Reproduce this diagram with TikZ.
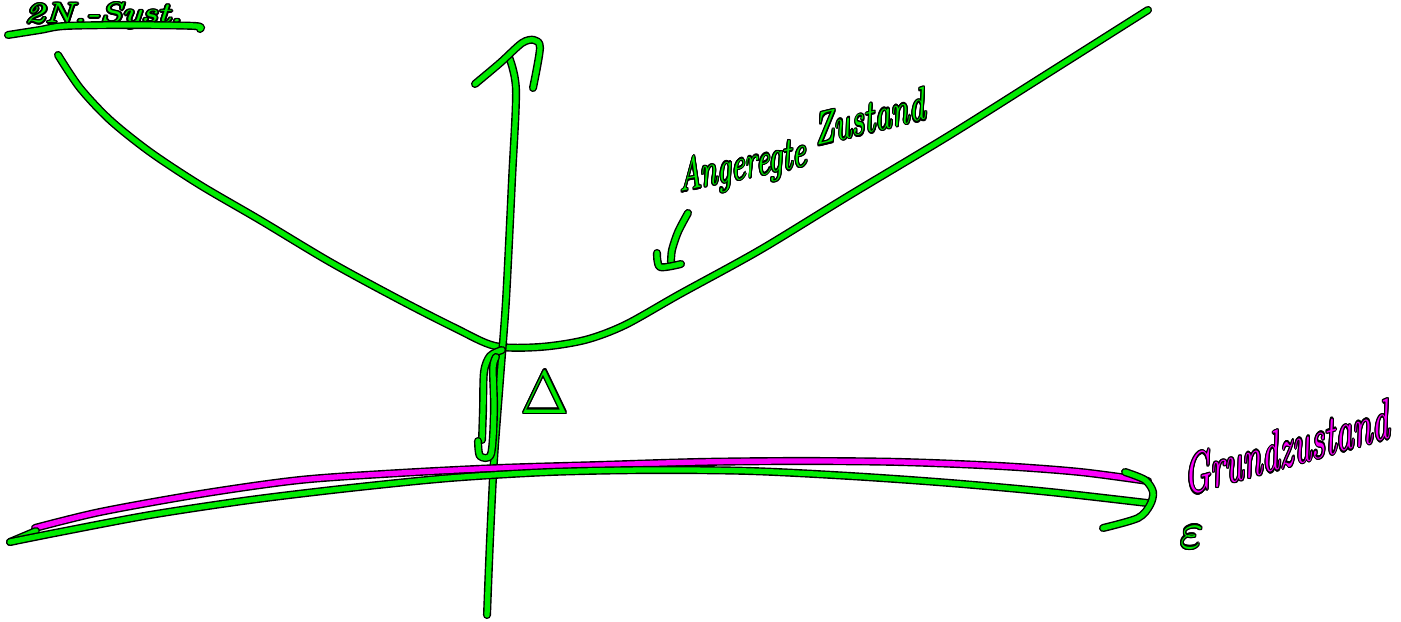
\documentclass[tikz,border=0pt]{standalone}
\usepackage{contour}
\contourlength{0.4pt}
\definecolor{pengreen}{RGB}{0,235,0}
\definecolor{penmagenta}{RGB}{250,0,250}
\newcommand{\pentext}[2]{\textcolor{#1}{\contour{black}{#2}}}

\begin{document}
\begin{tikzpicture}[x=0.01cm,y=-0.01cm,line cap=round,line join=round,
  pen/.style={draw=black,double=pengreen,double distance=1.5pt,line width=0.4pt},
  penmag/.style={pen,double=penmagenta},
  hand/.style={inner sep=0pt,font=\fontsize{13}{13}\selectfont\itshape}]
  \useasboundingbox (0,0) rectangle (1401,622);
  % Ueberschrift
  \node[hand,anchor=base west,font=\fontsize{8}{8}\selectfont\itshape,xscale=1.3] (titel) at (24,23) {\pentext{pengreen}{2N.-Syst.}};
  \draw[pen] plot[smooth] coordinates {(8,35) (40,30) (65,26) (130,25) (195,26) (200,29)};
  % angeregter Zustand
  \draw[pen] plot[smooth] coordinates {(58,55) (80,88) (110,120) (150,152) (200,185)
    (260,220) (330,262) (400,300) (455,328) (495,346) (540,347) (585,340) (625,325)
    (680,294) (760,250) (850,195) (950,135) (1050,72) (1148,10)};
  % Energieachse
  \draw[pen] plot[smooth] coordinates {(487,615) (490,540) (494,460) (500,380)
    (506,300) (512,180) (516,90) (509,57)};
  \draw[pen] plot[smooth] coordinates {(475,84) (500,63) (522,43) (534,40) (540,48) (533,88)};
  % Grundzustand
  \draw[penmag] plot[smooth] coordinates {(35,528) (100,512) (200,494) (300,480)
    (400,473) (500,468) (600,465) (700,462) (800,461) (900,462) (1000,466)
    (1080,472) (1148,481)};
  \draw[pen] (36,531) -- (10,542);
  \draw[pen] plot[smooth] coordinates {(10,542) (60,532) (150,515) (250,500)
    (350,488) (450,478) (550,472) (650,470) (750,471) (850,476) (950,483)
    (1050,492) (1147,503)};
  \draw[pen] plot[smooth] coordinates {(1125,472) (1145,480) (1153,492) (1150,505)
    (1138,518) (1103,528)};
  % Luecke
  \draw[pen] plot[smooth] coordinates {(502,350) (490,356) (484,372) (483,410) (482,440)};
  \draw[pen] plot[smooth] coordinates {(478,441) (480,456) (491,454) (494,410)
    (493,368) (496,357)};
  \node[hand,font=\fontsize{16}{16}\selectfont\itshape] (delta) at (545,393) {\pentext{pengreen}{$\Delta$}};
  % Beschriftungen
  \node[hand,anchor=base west,xscale=0.68,rotate=8] (angeregt) at (680,192) {\pentext{pengreen}{Angeregte}};
  \node[hand,anchor=base west,xscale=0.72,rotate=10] (zustand) at (816,146) {\pentext{pengreen}{Zustand}};
  \draw[pen] plot[smooth] coordinates {(688,213) (678,232) (672,250) (671,262)};
  \draw[pen] plot[smooth] coordinates {(657,253) (660,267) (681,264)};
  \node[hand,anchor=base west,font=\fontsize{16}{16}\selectfont\itshape,xscale=0.62,rotate=10] (grund) at (1186,496) {\pentext{penmagenta}{Grundzustand}};
  \node[hand,font=\fontsize{15}{15}\selectfont] (eps) at (1192,538) {\pentext{pengreen}{$\varepsilon$}};
\end{tikzpicture}
\end{document}
